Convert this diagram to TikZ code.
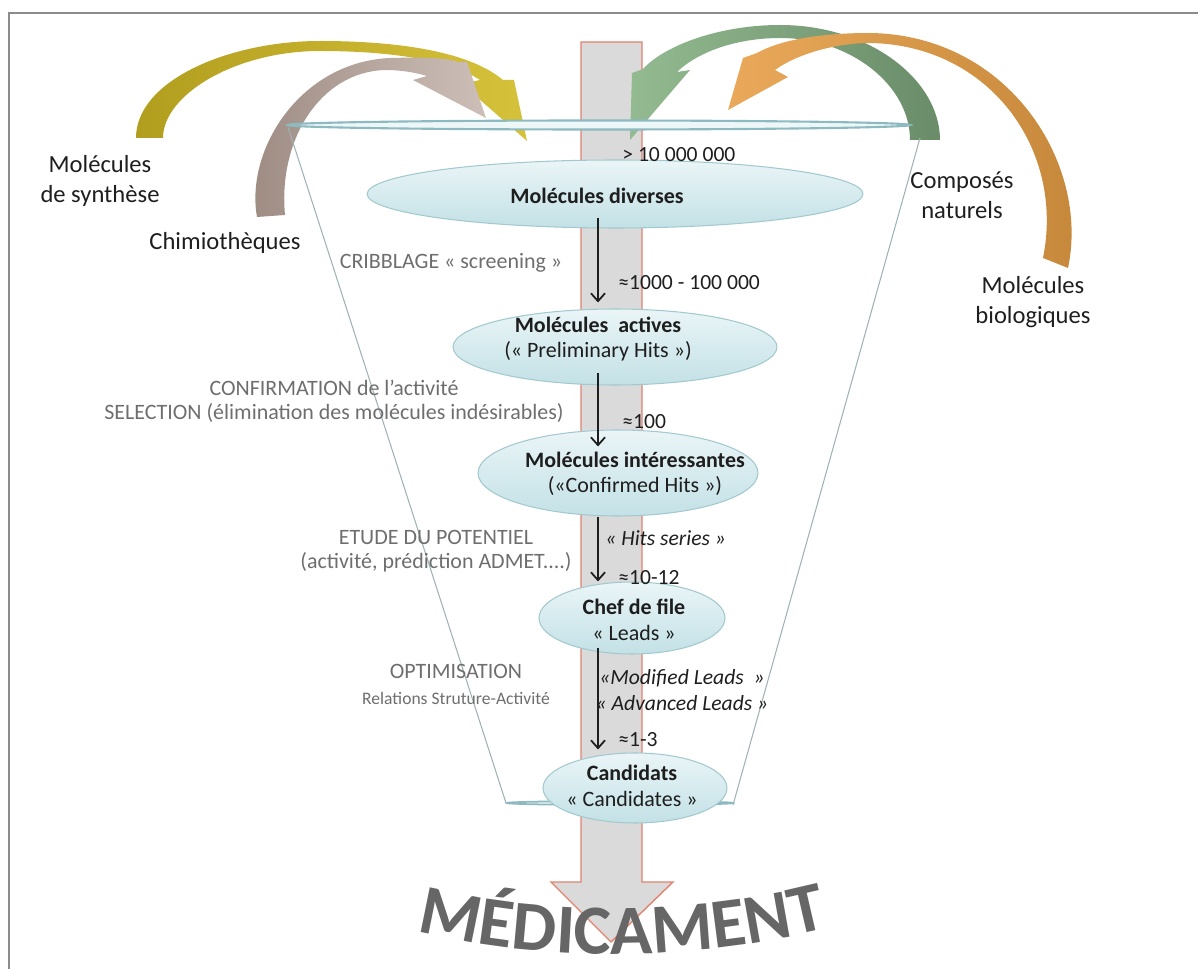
\documentclass[tikz,border=0pt]{standalone}
\usepackage{fontspec}
\setmainfont{Carlito}
\usetikzlibrary{arrows.meta,shapes.geometric,decorations.text}
\definecolor{framec}{HTML}{8C8C8C}
\definecolor{shaftfill}{HTML}{DADADA}
\definecolor{shaftline}{HTML}{E2826F}
\definecolor{ellTop}{HTML}{EAF5F7}
\definecolor{ellBot}{HTML}{C3E1E6}
\definecolor{ellLine}{HTML}{A3C9D0}
\definecolor{rimc}{HTML}{8DB9C0}
\definecolor{rimfill}{HTML}{EEF7F8}
\definecolor{funnelc}{HTML}{9FB3B7}
\definecolor{graytxt}{HTML}{6E6E6E}
\definecolor{darktxt}{HTML}{1E1E1E}
\definecolor{medc}{HTML}{666666}
\definecolor{oliveL}{HTML}{B29E1E}
\definecolor{oliveR}{HTML}{D6C23A}
\definecolor{brownL}{HTML}{9D8B82}
\definecolor{brownR}{HTML}{CDBFB8}
\definecolor{greenL}{HTML}{93BA90}
\definecolor{greenR}{HTML}{6A8C69}
\definecolor{orangeL}{HTML}{EAA95A}
\definecolor{orangeR}{HTML}{C5873A}
\begin{document}
\begin{tikzpicture}[x=0.02cm,y=-0.02cm,
  ell/.style={ellipse, draw=ellLine, line width=0.6pt, top color=ellTop, bottom color=ellBot, inner sep=0pt},
  etext/.style={align=center, text=darktxt, font=\fontsize{12.5}{14.5}\selectfont, inner sep=0pt},
  side/.style={align=center, text=darktxt, font=\fontsize{14}{17}\selectfont, inner sep=0pt},
  gtext/.style={align=center, text=graytxt, font=\fontsize{12.5}{13.7}\selectfont, inner sep=0pt},
  num/.style={text=darktxt, font=\fontsize{12.3}{14}\selectfont, inner sep=0pt},
  blk/.style={draw=darktxt, line width=1pt, -{Straight Barb[length=4.5pt,width=8pt]}},
  funnel/.style={draw=funnelc, line width=0.6pt},
]
\useasboundingbox (0,0) rectangle (1198,969);
% frame
\draw[framec, line width=1.4pt] (9,969) -- (9,13) -- (1198,13);
% central arrow
\draw[fill=shaftfill, draw=shaftline, line width=0.8pt] (581,42) -- (642,42) -- (642,882) -- (673,882) -- (611,942) -- (551,882) -- (581,882) -- cycle;
% olive arrow
\shade[left color=oliveL, right color=oliveR] (136,138) .. controls (136,80) and (230,41) .. (320,41) .. controls (400,41) and (470,52) .. (503,80) -- (514,80) -- (527,141) -- (462,84) -- (480,80) .. controls (450,60) and (390,51) .. (320,51) .. controls (235,51) and (163,95) .. (163,138) -- cycle;
% brown arrow
\shade[left color=brownL, right color=brownR] (257,217) .. controls (245,150) and (300,62) .. (390,58) .. controls (425,57) and (448,58) .. (458,62) -- (467,62) -- (486,118) -- (413,80) -- (427,76) .. controls (410,71) and (395,70) .. (385,70) .. controls (320,72) and (278,140) .. (285,215) -- cycle;
% green arrow
\shade[left color=greenL, right color=greenR] (940,140) .. controls (940,80) and (870,25) .. (780,25) .. controls (720,25) and (665,45) .. (643,69) -- (632,73) -- (630,140) -- (690,70) -- (677,72) .. controls (700,50) and (740,38) .. (780,38) .. controls (850,38) and (910,85) .. (910,140) -- cycle;
% orange arrow
\shade[left color=orangeL, right color=orangeR] (1068,268) .. controls (1090,165) and (1010,35) .. (870,33) .. controls (820,33) and (780,40) .. (757,53) -- (743,58) -- (728,110) -- (788,77) -- (775,70) .. controls (800,52) and (840,43) .. (870,43) .. controls (990,45) and (1065,150) .. (1043,258) -- cycle;
% funnel
\draw[rimc, line width=1.2pt, fill=rimfill] (599,125) ellipse [x radius=311, y radius=4.5];
\draw[funnel] (288,127) -- (506,803);
\draw[funnel] (920,138) -- (733,805);
\draw[rimc, line width=1pt, fill=rimfill] (620,803) ellipse [x radius=113, y radius=2];
% ellipses
\node[ell, minimum width=9.92cm, minimum height=1.36cm] (div) at (615,194) {};
\node[ell, minimum width=6.48cm, minimum height=1.52cm] (act) at (615,347) {};
\node[ell, minimum width=5.6cm, minimum height=1.72cm] (int) at (618,473) {};
\node[ell, minimum width=3.72cm, minimum height=1.44cm] (chef) at (632,618) {};
\node[ell, minimum width=3.68cm, minimum height=1.40cm] (cand) at (635,788) {};
\node[etext] (divT) at (597,196) {\textbf{Molécules diverses}};
\node[etext] (actT) at (598,339) {\textbf{Molécules\ \ actives}\\(« Preliminary Hits »)};
\node[etext] (intT) at (635,474) {\textbf{Molécules intéressantes}\\(«Confirmed Hits »)};
\node[etext] (chefT) at (634,620) {\textbf{Chef de file}\\« Leads »};
\node[etext] (candT) at (632,786) {\textbf{Candidats}\\« Candidates »};
% black arrows
\coordinate (colx) at (598,0);
\draw[blk, shorten <=-0.22cm, shorten >=0.12cm] (div.south -| colx) -- (act.north -| colx);
\draw[blk, shorten <=-0.26cm, shorten >=-0.34cm] (act.south -| colx) -- (int.north -| colx);
\draw[blk] (int.south -| colx) -- (chef.north -| colx);
\draw[blk, shorten <=-0.14cm, shorten >=0.06cm] (chef.south -| colx) -- (cand.north -| colx);
% left grey labels
\node[gtext] (crib) at (451,263) {CRIBBLAGE « screening »};
\node[gtext] (conf) at (334,401) {CONFIRMATION de l’activité\\SELECTION (élimination des molécules indésirables)};
\node[gtext] (etude) at (436,551) {ETUDE DU POTENTIEL\\(activité, prédiction ADMET....)};
\node[gtext] (optim) at (456,671) {OPTIMISATION};
\node[gtext, font=\fontsize{10}{12}\selectfont] (rel) at (456,698) {Relations Struture-Activité};
% right labels
\node[num, anchor=west] (n1) at (622,155) {> 10 000 000};
\node[num, anchor=west] (n2) at (618,283) {≈1000 - 100 000};
\node[num, anchor=west] (n3) at (622,422) {≈100};
\node[num, anchor=west, font=\fontsize{12.3}{14}\selectfont\itshape] (n4) at (605,538) {« Hits series »};
\node[num, anchor=west] (n5) at (618,578) {≈10-12};
\node[num, align=center, font=\fontsize{12.3}{14.5}\selectfont\itshape] (n6) at (682,690) {«Modified Leads\ \ »\\« Advanced Leads »};
\node[num, anchor=west] (n7) at (618,740) {≈1-3};
% side labels
\node[side] (synth) at (100,181) {Molécules\\de synthèse};
\node[side] (chimio) at (225,243) {Chimiothèques};
\node[side] (compo) at (962,195) {Composés\\naturels};
\node[side] (bio) at (1033,302) {Molécules\\biologiques};
% final word
\path[decorate, decoration={text along path, text align=center, text color=medc, text={|\fontsize{40}{40}\selectfont\bfseries|MÉDICAMENT}}] (395,925) .. controls (530,964) and (705,964) .. (850,922);
\end{tikzpicture}
\end{document}
